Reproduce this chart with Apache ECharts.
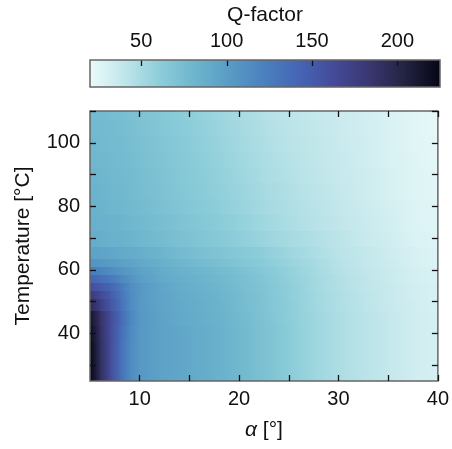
<!DOCTYPE html>
<html>
<head>
<meta charset="utf-8">
<script src="https://cdn.jsdelivr.net/npm/echarts@6/dist/echarts.min.js"></script>
<style>
    html, body { margin: 0; padding: 0; background: #fff; }
    #chart { width: 452px; height: 449px; }
</style>
</head>
<body>
<div id="chart"></div>
<script>
    // alpha [deg] columns and temperature [C] rows of the Q-factor map
    const alphaVals = [5, 6, 7, 8, 9, 10, 12, 14, 16, 18, 20, 22.5, 25, 27.5, 30, 32.5, 35, 37.5, 40]
    const tempVals = [25, 30, 35, 40, 45, 50, 52.5, 55, 57.5, 60, 62.5, 65, 70, 75, 80, 85, 90, 95, 100, 105, 110]
    const qRows = [
        [225, 192, 163, 136, 115, 104, 97, 93, 89, 85, 79, 71, 62, 54, 48, 43, 38, 33, 30],
        [225, 192, 163, 136, 115, 104, 97, 93, 89, 85, 79, 71, 62, 54, 48, 43, 38, 33, 30],
        [224, 191, 163, 136, 115, 104, 97, 93, 89, 85, 79, 71, 62, 54, 48, 43, 38, 33, 30],
        [221, 190, 163, 137, 116, 104, 97, 93, 89, 85, 79, 71, 62, 54, 48, 43, 38, 33, 30],
        [215, 188, 163, 140, 118, 105, 96, 92, 88, 84, 78, 70, 61, 54, 48, 43, 38, 33, 30],
        [195, 175, 155, 135, 115, 104, 95, 91, 87, 83, 77, 69, 61, 53, 47, 42, 37, 33, 29],
        [180, 165, 150, 132, 114, 104, 95, 90, 86, 82, 76, 69, 60, 53, 47, 42, 37, 32, 29],
        [160, 152, 142, 128, 113, 104, 94, 89, 85, 81, 75, 68, 60, 52, 46, 41, 37, 32, 29],
        [142, 136, 128, 118, 108, 100, 92, 87, 83, 79, 74, 67, 59, 52, 46, 41, 36, 31, 28],
        [125, 120, 114, 108, 102, 97, 90, 85, 81, 77, 72, 65, 58, 51, 45, 40, 36, 31, 28],
        [108, 105, 102, 99, 95, 92, 86, 81, 77, 73, 68, 62, 56, 50, 44, 39, 35, 30, 27],
        [96, 95, 93, 91, 89, 87, 82, 77, 73, 69, 65, 60, 54, 48, 43, 39, 34, 30, 27],
        [88, 87, 85, 84, 82, 80, 76, 72, 68, 64, 60, 55, 50, 46, 42, 37, 33, 28, 26],
        [86, 85, 83, 82, 80, 78, 74, 70, 66, 62, 58, 53, 48, 44, 40, 36, 32, 27, 25],
        [84, 83, 81, 80, 78, 76, 72, 68, 64, 60, 56, 51, 47, 43, 39, 35, 31, 27, 25],
        [83, 82, 80, 79, 77, 75, 71, 67, 63, 59, 55, 50, 46, 42, 38, 34, 30, 26, 24],
        [82, 81, 79, 78, 76, 74, 70, 66, 62, 58, 54, 49, 45, 41, 37, 34, 30, 26, 24],
        [80, 79, 78, 77, 75, 73, 69, 65, 61, 57, 53, 48, 44, 40, 37, 33, 29, 26, 23],
        [79, 78, 77, 76, 74, 72, 68, 64, 60, 56, 52, 47, 43, 40, 36, 33, 29, 25, 23],
        [78, 77, 76, 75, 73, 71, 67, 63, 59, 55, 51, 46, 42, 39, 36, 32, 29, 25, 22],
        [77, 76, 75, 74, 72, 70, 66, 62, 58, 54, 50, 45, 41, 38, 35, 32, 28, 25, 22]
    ]

    const xTicks = [10, 15, 20, 25, 30, 35, 40]
    const xLabels = [10, 20, 30, 40]
    const yTicks = [30, 40, 50, 60, 70, 80, 90, 100, 110]
    const yLabels = [40, 60, 80, 100]
    const qTicks = [50, 100, 150, 200]
    const qMin = 20
    const qMax = 225

    // cmocean "ice", light end first
    const iceColors = ['#ebfafa', '#bfe6ea', '#8ccdd9', '#6db5cd', '#589bc5', '#4a80be',
        '#4564b4', '#444a98', '#393670', '#232342', '#050614']

    function iceColor (q) {
        const t = Math.min(1, Math.max(0, (q - qMin) / (qMax - qMin)))
        return echarts.color.lerp(t, iceColors)
    }

    // rows are bands between neighbouring temperatures,
    // columns run from one alpha sample to the next
    const ye = [tempVals[0]]
    for (let i = 1; i < tempVals.length; i++) ye.push((tempVals[i - 1] + tempVals[i]) / 2)
    ye.push(tempVals[tempVals.length - 1])

    const cells = []
    tempVals.forEach((t, i) => {
        for (let j = 0; j < alphaVals.length - 1; j++) {
            cells.push([alphaVals[j], alphaVals[j + 1], ye[i], ye[i + 1], qRows[i][j], qRows[i][j + 1]])
        }
    })

    // gradient for a cell, going left to right
    function hGradient (c0, c1) {
        return { type: 'linear', x: 0, y: 0, x2: 1, y2: 0, colorStops: [{ offset: 0, color: c0 }, { offset: 1, color: c1 }] }
    }
    const barStops = iceColors.map((c, i) => ({ offset: i / (iceColors.length - 1), color: c }))

    const font = 'Liberation Sans, Arial, sans-serif'
    const tickTxt = { color: '#111', fontSize: 20, fontFamily: font }
    const nameTxt = { color: '#111', fontSize: 21, fontFamily: font }
    const tickLine = { color: '#111', width: 1.3 }

    const chart = echarts.init(document.getElementById('chart'))
    const option = {
        animation: false,
        textStyle: { fontFamily: font },
        grid: [
            { left: 90, right: 12, top: 111, bottom: 68, show: true, z: 10,
              borderColor: '#666', borderWidth: 1.5, backgroundColor: 'transparent' },
            { left: 90, top: 60, width: 350, height: 27, show: true, z: 10,
              borderColor: '#666', borderWidth: 1.5, backgroundColor: 'transparent' }
        ],
        xAxis: [
            {
                gridIndex: 0, type: 'value', min: 5, max: 40, position: 'bottom', z: 10,
                axisLine: { show: false, onZero: false },
                axisTick: { inside: true, length: 6, customValues: xTicks, lineStyle: tickLine },
                axisLabel: Object.assign({ customValues: xLabels, margin: 8 }, tickTxt),
                splitLine: { show: false },
                name: '{i|α} [°]',
                nameLocation: 'middle',
                nameGap: 39,
                nameTextStyle: Object.assign({ rich: { i: Object.assign({ fontStyle: 'italic' }, nameTxt) } }, nameTxt)
            },
            {
                gridIndex: 0, type: 'value', min: 5, max: 40, position: 'top', z: 10,
                axisLine: { show: false, onZero: false },
                axisTick: { inside: true, length: 6, customValues: xTicks, lineStyle: tickLine },
                axisLabel: { show: false },
                splitLine: { show: false }
            },
            {
                gridIndex: 1, type: 'value', min: qMin, max: qMax, position: 'top', z: 10,
                axisLine: { show: false, onZero: false },
                axisTick: { show: false },
                axisLabel: Object.assign({ customValues: qTicks, margin: 9 }, tickTxt),
                splitLine: { show: false },
                name: 'Q-factor',
                nameLocation: 'middle',
                nameGap: 34,
                nameTextStyle: nameTxt
            }
        ],
        yAxis: [
            {
                gridIndex: 0, type: 'value', min: 25, max: 110, position: 'left', z: 10,
                axisLine: { show: false, onZero: false },
                axisTick: { inside: true, length: 6, customValues: yTicks, lineStyle: tickLine },
                axisLabel: Object.assign({ customValues: yLabels, margin: 10 }, tickTxt),
                splitLine: { show: false },
                name: 'Temperature [°C]',
                nameLocation: 'middle',
                nameGap: 56,
                nameTextStyle: nameTxt
            },
            {
                gridIndex: 0, type: 'value', min: 25, max: 110, position: 'right', z: 10,
                axisLine: { show: false, onZero: false },
                axisTick: { inside: true, length: 6, customValues: yTicks, lineStyle: tickLine },
                axisLabel: { show: false },
                splitLine: { show: false }
            },
            {
                // dummy axis for the colour bar
                gridIndex: 1, type: 'value', min: 1, max: 2, show: false
            }
        ],
        series: [
            {
                type: 'custom',
                xAxisIndex: 0,
                yAxisIndex: 0,
                clip: true,
                encode: { x: [0, 1], y: [2, 3] },
                data: cells,
                renderItem (params, api) {
                    const p0 = api.coord([api.value(0), api.value(3)])
                    const p1 = api.coord([api.value(1), api.value(2)])
                    const x0 = Math.round(p0[0])
                    const y0 = Math.round(p0[1])
                    const x1 = Math.round(p1[0])
                    const y1 = Math.round(p1[1])
                    return {
                        type: 'rect',
                        shape: { x: x0, y: y0, width: x1 - x0 + 1, height: y1 - y0 + 1 },
                        style: { fill: hGradient(iceColor(api.value(4)), iceColor(api.value(5))) }
                    }
                }
            },
            {
                // colour bar with its ticks hanging from the top edge
                type: 'custom',
                xAxisIndex: 2,
                yAxisIndex: 2,
                encode: { x: [0, 1] },
                data: [[qMin, qMax]],
                renderItem (params, api) {
                    const p0 = api.coord([api.value(0), 2])
                    const p1 = api.coord([api.value(1), 1])
                    const children = [{
                        type: 'rect',
                        shape: { x: p0[0], y: p0[1], width: p1[0] - p0[0], height: p1[1] - p0[1] },
                        style: { fill: { type: 'linear', x: 0, y: 0, x2: 1, y2: 0, colorStops: barStops } }
                    }]
                    qTicks.forEach(q => {
                        const p = api.coord([q, 2])
                        const x = Math.round(p[0]) + 0.5
                        children.push({
                            type: 'line',
                            shape: { x1: x, y1: p[1], x2: x, y2: p[1] + 6 },
                            style: { stroke: '#111', lineWidth: 1.3 }
                        })
                    })
                    return { type: 'group', children: children }
                }
            }
        ]
    }
    chart.setOption(option)
</script>
</body>
</html>
